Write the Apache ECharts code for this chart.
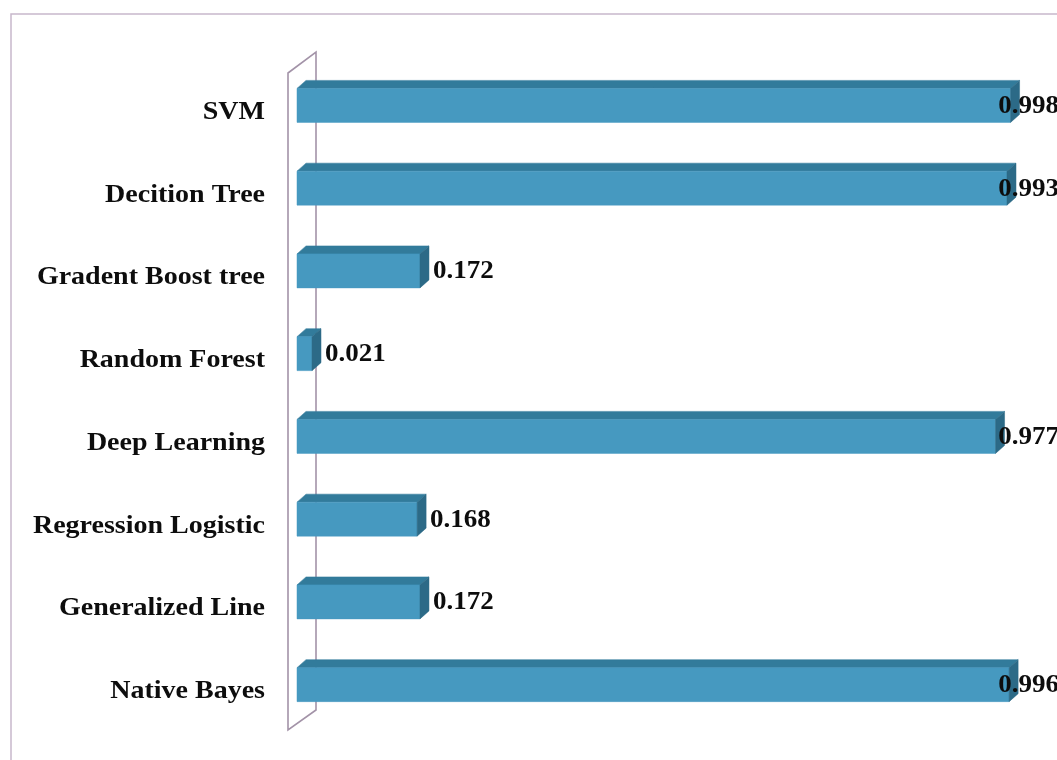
<!DOCTYPE html>
<html>
<head>
<meta charset="utf-8">
<title>Model scores</title>
<script src="https://cdn.jsdelivr.net/npm/echarts@6/dist/echarts.min.js"></script>
<style>
  html, body { margin: 0; padding: 0; background: #ffffff; }
  #chart { width: 1057px; height: 760px; }
</style>
</head>
<body>
<div id="chart"></div>
<script>
// Models, listed top to bottom
const categories = [
  'SVM',
  'Decition Tree',
  'Gradent Boost tree',
  'Random Forest',
  'Deep Learning',
  'Regression Logistic',
  'Generalized Line',
  'Native Bayes'
];
// Score of each model
const values = [0.998, 0.993, 0.172, 0.021, 0.977, 0.168, 0.172, 0.996];

const GRID = { left: 297, top: 70, right: 45, bottom: 28 };
const DEPTH_X = 9;      // 3D depth offset of each bar
const DEPTH_Y = -8;
const FRONT_UP = 23;    // front face extent above / below the band centre
const FRONT_DOWN = 11;
const FONT = '"Liberation Serif", "Times New Roman", serif';
const LABEL_SIZE = 25;
const CAT_SCALE_X = 1.12;
const NUM_SCALE_X = 1.08;

const measureCtx = document.createElement('canvas').getContext('2d');
function textWidth(txt, size) {
  measureCtx.font = 'bold ' + size + 'px ' + FONT;
  return measureCtx.measureText(txt).width;
}

const chart = echarts.init(document.getElementById('chart'), null, { renderer: 'canvas' });

function renderBar(params, api) {
  const idx = api.value(1);
  const val = api.value(0);
  const p0 = api.coord([0, idx]);
  const p1 = api.coord([val, idx]);
  const x0 = p0[0];
  const x1 = p1[0];
  const c = p0[1];
  const yT = c - FRONT_UP;
  const yB = c + FRONT_DOWN;

  const top = [[x0, yT], [x1, yT], [x1 + DEPTH_X, yT + DEPTH_Y], [x0 + DEPTH_X, yT + DEPTH_Y]];
  const side = [[x1, yT], [x1 + DEPTH_X, yT + DEPTH_Y], [x1 + DEPTH_X, yB + DEPTH_Y], [x1, yB]];

  // value label: just past the bar, kept inside the chart's right edge
  const txt = String(val);
  const w = textWidth(txt, LABEL_SIZE) * NUM_SCALE_X;
  const chartW = api.getWidth();
  let lx = x1 + 13;
  if (lx + w > chartW + 2) lx = chartW + 2 - w;

  return {
    type: 'group',
    children: [
      {
        type: 'polygon',
        shape: { points: top },
        style: { fill: '#327b9b', stroke: '#327b9b', lineWidth: 0.5 }
      },
      {
        type: 'rect',
        shape: { x: x0, y: yT, width: x1 - x0, height: yB - yT },
        style: { fill: '#4699c0', stroke: '#4699c0', lineWidth: 0.5 }
      },
      {
        type: 'polygon',
        shape: { points: side },
        style: { fill: '#2c6a87', stroke: '#2c6a87', lineWidth: 0.5 }
      },
      {
        type: 'text',
        x: x0 - 32,
        y: c + 1,
        scaleX: CAT_SCALE_X,
        style: {
          x: 0, y: 0,
          text: categories[idx],
          align: 'right',
          verticalAlign: 'middle',
          font: 'bold ' + LABEL_SIZE + 'px ' + FONT,
          fill: '#0d0d0d'
        },
        z2: 10
      },
      {
        type: 'text',
        x: lx,
        y: (yT + yB) / 2 + 1,
        scaleX: NUM_SCALE_X,
        style: {
          x: 0, y: 0,
          text: txt,
          align: 'left',
          verticalAlign: 'middle',
          font: 'bold ' + LABEL_SIZE + 'px ' + FONT,
          fill: '#0d0d0d'
        },
        z2: 10
      }
    ]
  };
}

const H = 760;
const wallLeft = GRID.left - 9;
const wallRight = GRID.left + 19;
const wallTop = GRID.top + 3;
const wallBottom = H - GRID.bottom - 2;

chart.setOption({
  animation: false,
  backgroundColor: '#ffffff',
  grid: GRID,
  xAxis: {
    type: 'value',
    min: 0,
    max: 1,
    show: false
  },
  yAxis: {
    type: 'category',
    data: categories,
    inverse: true,
    axisLine: { show: false },
    axisTick: { show: false },
    axisLabel: { show: false },
    splitLine: { show: false }
  },
  graphic: [
    {
      type: 'rect',
      z: 0,
      shape: { x: 11, y: 14, width: 1100, height: 800 },
      style: { fill: 'none', stroke: '#c7b8cb', lineWidth: 1.5 }
    },
    {
      type: 'polygon',
      z: 0,
      shape: {
        points: [
          [wallLeft, wallTop],
          [wallRight, wallTop - 21],
          [wallRight, wallBottom - 20],
          [wallLeft, wallBottom]
        ]
      },
      style: { fill: 'none', stroke: '#a393a8', lineWidth: 1.6 }
    }
  ],
  series: [
    {
      type: 'custom',
      z: 5,
      renderItem: renderBar,
      encode: { x: 0, y: 1 },
      data: values.map((v, i) => [v, i])
    }
  ]
});
</script>
</body>
</html>
